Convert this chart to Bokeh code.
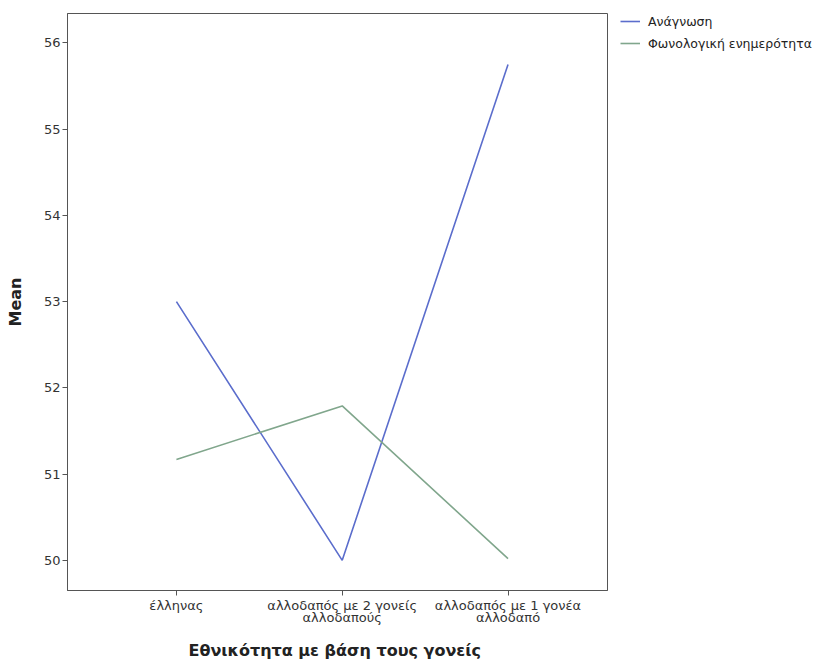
from bokeh.plotting import figure
from bokeh.models import Legend, LegendItem, FixedTicker, Range1d
from bokeh.embed import file_html
from bokeh.resources import INLINE

categories = ["έλληνας", "αλλοδαπός με 2 γονείς\nαλλοδαπούς", "αλλοδαπός με 1 γονέα\nαλλοδαπό"]
anagnosi = [53.0, 50.0, 55.75]
fonologiki = [51.17, 51.79, 50.02]
series_names = ["Ανάγνωση", "Φωνολογική ενημερότητα"]
y_ticks = [50, 51, 52, 53, 54, 55, 56]

xs = list(range(1, len(categories) + 1))

p = figure(frame_width=540, frame_height=577, output_backend="svg", toolbar_location=None,
           x_range=Range1d(0.343, 3.60), y_range=Range1d(49.65, 56.34),
           min_border_left=67, min_border_top=13, min_border_right=0, min_border_bottom=60)

r1 = p.line(xs, anagnosi, line_color="#5b6dcc", line_width=1.6)
r2 = p.line(xs, fonologiki, line_color="#80a68c", line_width=1.6)

legend = Legend(items=[LegendItem(label=series_names[0], renderers=[r1]),
                       LegendItem(label=series_names[1], renderers=[r2])],
                location=(11, 537), border_line_alpha=0, background_fill_alpha=0,
                label_text_font="DejaVu Sans", label_text_font_size="12.5px",
                label_text_color="#222222", glyph_width=20, glyph_height=16,
                label_height=16, spacing=6, padding=2, margin=0, label_standoff=8)
p.add_layout(legend, "right")

p.grid.visible = False
p.outline_line_color = "#555555"
p.outline_line_width = 1

p.yaxis.ticker = FixedTicker(ticks=y_ticks)
p.xaxis.ticker = FixedTicker(ticks=xs)
p.xaxis.major_label_overrides = {x: c for x, c in zip(xs, categories)}

for ax in (p.xaxis[0], p.yaxis[0]):
    ax.axis_line_color = "#555555"
    ax.major_tick_line_color = "#555555"
    ax.major_tick_out = 5
    ax.major_tick_in = 0
    ax.minor_tick_line_color = None
    ax.major_label_text_font = "DejaVu Sans"
    ax.major_label_text_font_size = "13px"
    ax.major_label_text_color = "#333333"
    ax.axis_label_text_font = "DejaVu Sans"
    ax.axis_label_text_font_size = "16px"
    ax.axis_label_text_font_style = "bold"
    ax.axis_label_text_color = "#222222"

p.xaxis.major_label_text_line_height = 0.85
p.xaxis.axis_label = "Εθνικότητα με βάση τους  γονείς"
p.yaxis.axis_label = "Mean"
p.xaxis.major_label_standoff = 2
p.yaxis.major_label_standoff = 2
p.xaxis.axis_label_standoff = 13
p.yaxis.axis_label_standoff = 16

open("out.html", "w").write(file_html(p, INLINE))
